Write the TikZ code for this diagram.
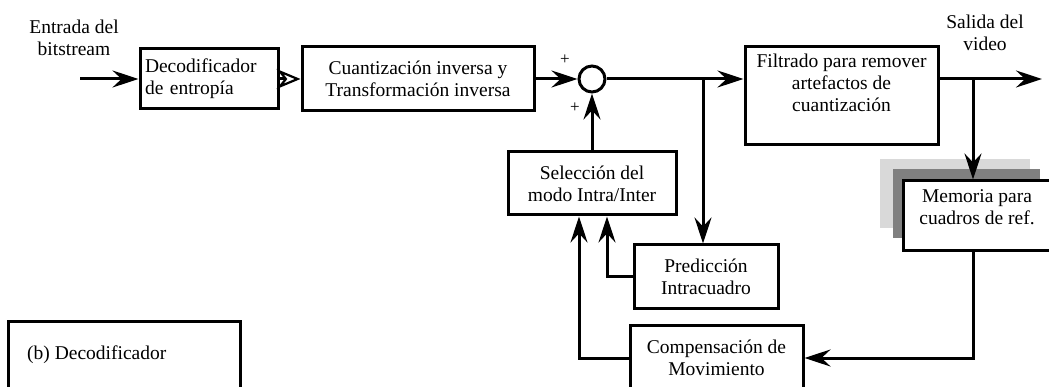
\documentclass[tikz,border=0pt]{standalone}
\usepackage{fontspec}
\setmainfont{Liberation Serif}
\usetikzlibrary{arrows.meta,calc}
\begin{document}
\begin{tikzpicture}[x=1pt,y=-1pt,
  box/.style={draw, line width=3pt, inner sep=0pt, align=center, fill=white},
  conn/.style={line width=3pt, -{Stealth[length=26pt,width=17pt,inset=9pt]}},
  openconn/.style={line width=3pt, -{Stealth[open,length=24pt,width=20pt,inset=8pt,line width=2.2pt]}},
  lbl/.style={align=center, inner sep=0pt},
  font=\fontsize{19.5}{22}\selectfont]
\useasboundingbox (0,0) rectangle (1049,387);
\clip (0,0) rectangle (1049,387);

% texts outside boxes
\node[lbl] (entrada) at (74,38) {Entrada del\\bitstream};
\node[lbl] (salida) at (985,33) {Salida del\\video};

% boxes
\node[box, minimum width=138pt, minimum height=60pt, text width=128pt, align=left] (dec) at (209,79) {Decodificador\\de entropía};
\node[box, minimum width=232pt, minimum height=64pt] (cuant) at (418,79) {Cuantización inversa y\\Transformación inversa};
\node[draw, circle, line width=3pt, minimum size=26pt, inner sep=0pt] (sum) at (592,79) {};
\node[font=\fontsize{17}{17}\selectfont, inner sep=0pt] (p1) at (565,60) {+};
\node[font=\fontsize{17}{17}\selectfont, inner sep=0pt] (p2) at (575,108) {+};

\node[box, minimum width=193pt, minimum height=98pt] (filt) at (841.5,96) {};
\node[lbl] (filtT) at (841.5,83) {Filtrado para remover\\artefactos de\\cuantización};

\node[box, minimum width=168pt, minimum height=63pt] (sel) at (592,183.5) {Selección del\\modo Intra/Inter};
\node[box, minimum width=144pt, minimum height=63pt] (pred) at (706,276.5) {Predicción\\Intracuadro};
\node[box, minimum width=173pt, minimum height=66pt] (comp) at (716.5,358) {Compensación de\\Movimiento};

% memory box with shadows
\fill[gray!30] (880,159) rectangle (1030,228);
\fill[gray] (893,169) rectangle (1040,238);
\node[box, minimum width=152pt, minimum height=70pt] (mem) at (979,216) {};
\node[lbl] (memT) at (977,207.5) {Memoria para\\cuadros de ref.};

\node[box, minimum width=232pt, minimum height=74pt] (bdec) at (124,358) {};
\node[lbl, anchor=west] (bdecT) at (27,355) {(b) Decodificador};

% connectors
\coordinate (in) at (80,79);
\coordinate (out) at (1042,79);
\coordinate (br) at (703,79);
\coordinate (br2) at (973,79);

\draw[conn] (in) -- (dec.west);
\draw[openconn] (dec.east) -- (cuant.west);
\draw[conn] (cuant.east) -- (sum.west);
\draw[conn] (sum.east) -- (filt.west |- sum.east);
\draw[conn] (br) -- (br |- pred.north);
\draw[conn] (sel.north -| sum.south) -- (sum.south);
\draw[conn] (pred.west) -| ($(sel.south)+(15,0)$);
\draw[conn] (comp.west) -| ($(sel.south)+(-13,0)$);
\draw[conn] (filt.east |- out) -- (out);
\draw[conn] (br2) -- (br2 |- mem.north);
\draw[conn] (br2 |- mem.south) |- (comp.east);
\end{tikzpicture}
\end{document}
